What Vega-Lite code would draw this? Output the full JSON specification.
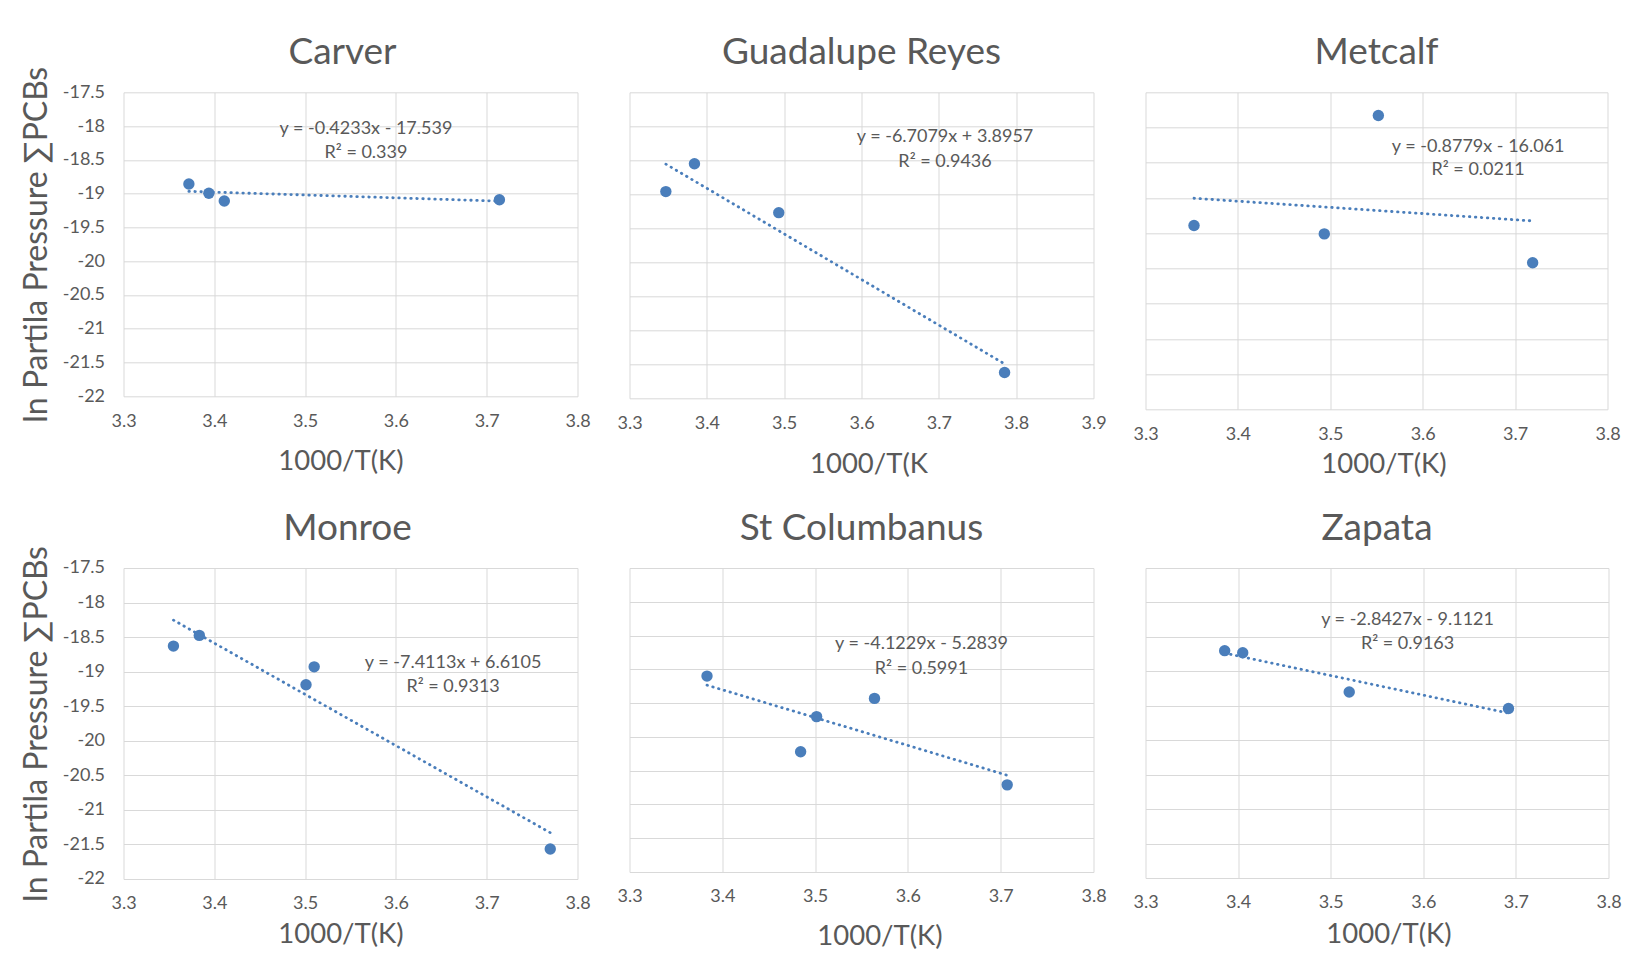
{
  "$schema": "https://vega.github.io/schema/vega-lite/v6.json",
  "background": "white",
  "padding": {"left": 19.5, "top": 33.3, "right": 5, "bottom": 5},
  "datasets": {
    "pts": [
      {"site": "Carver", "x": 3.372, "y": -18.857},
      {"site": "Carver", "x": 3.394, "y": -18.995},
      {"site": "Carver", "x": 3.411, "y": -19.11},
      {"site": "Carver", "x": 3.714, "y": -19.09},
      {"site": "Guadalupe Reyes", "x": 3.347, "y": -18.96},
      {"site": "Guadalupe Reyes", "x": 3.384, "y": -18.55},
      {"site": "Guadalupe Reyes", "x": 3.493, "y": -19.27},
      {"site": "Guadalupe Reyes", "x": 3.785, "y": -21.62},
      {"site": "Metcalf", "x": 3.3525, "y": -19.39},
      {"site": "Metcalf", "x": 3.4935, "y": -19.51},
      {"site": "Metcalf", "x": 3.552, "y": -17.83},
      {"site": "Metcalf", "x": 3.719, "y": -19.92},
      {"site": "Monroe", "x": 3.355, "y": -18.63},
      {"site": "Monroe", "x": 3.3835, "y": -18.475},
      {"site": "Monroe", "x": 3.501, "y": -19.19},
      {"site": "Monroe", "x": 3.51, "y": -18.93},
      {"site": "Monroe", "x": 3.77, "y": -21.565},
      {"site": "St Columbanus", "x": 3.3835, "y": -19.1},
      {"site": "St Columbanus", "x": 3.4844, "y": -20.22},
      {"site": "St Columbanus", "x": 3.5016, "y": -19.7},
      {"site": "St Columbanus", "x": 3.564, "y": -19.43},
      {"site": "St Columbanus", "x": 3.707, "y": -20.71},
      {"site": "Zapata", "x": 3.3855, "y": -18.7},
      {"site": "Zapata", "x": 3.405, "y": -18.73},
      {"site": "Zapata", "x": 3.52, "y": -19.3},
      {"site": "Zapata", "x": 3.692, "y": -19.54}
    ],
    "trend": [
      {"site": "Carver", "x": 3.372, "y": -18.966},
      {"site": "Carver", "x": 3.714, "y": -19.111},
      {"site": "Guadalupe Reyes", "x": 3.347, "y": -18.556},
      {"site": "Guadalupe Reyes", "x": 3.785, "y": -21.494},
      {"site": "Metcalf", "x": 3.3525, "y": -19.004},
      {"site": "Metcalf", "x": 3.719, "y": -19.326},
      {"site": "Monroe", "x": 3.355, "y": -18.254},
      {"site": "Monroe", "x": 3.77, "y": -21.33},
      {"site": "St Columbanus", "x": 3.3835, "y": -19.234},
      {"site": "St Columbanus", "x": 3.707, "y": -20.568},
      {"site": "Zapata", "x": 3.3855, "y": -18.736},
      {"site": "Zapata", "x": 3.692, "y": -19.607}
    ],
    "eq": [
      {"site": "Carver", "x": 3.567, "y": -18.04, "label": "y = -0.4233x - 17.539"},
      {"site": "Carver", "x": 3.567, "y": -18.4, "label": "R² = 0.339"},
      {"site": "Guadalupe Reyes", "x": 3.708, "y": -18.16, "label": "y = -6.7079x + 3.8957"},
      {"site": "Guadalupe Reyes", "x": 3.708, "y": -18.52, "label": "R² = 0.9436"},
      {"site": "Metcalf", "x": 3.66, "y": -18.27, "label": "y = -0.8779x - 16.061"},
      {"site": "Metcalf", "x": 3.66, "y": -18.61, "label": "R² = 0.0211"},
      {"site": "Monroe", "x": 3.663, "y": -18.87, "label": "y = -7.4113x + 6.6105"},
      {"site": "Monroe", "x": 3.663, "y": -19.22, "label": "R² = 0.9313"},
      {"site": "St Columbanus", "x": 3.6146, "y": -18.625, "label": "y = -4.1229x - 5.2839"},
      {"site": "St Columbanus", "x": 3.6146, "y": -18.995, "label": "R² = 0.5991"},
      {"site": "Zapata", "x": 3.583, "y": -18.26, "label": "y = -2.8427x - 9.1121"},
      {"site": "Zapata", "x": 3.583, "y": -18.61, "label": "R² = 0.9163"}
    ]
  },
  "spacing": 31.7,
  "vconcat": [
    {
      "bounds": "flush",
      "spacing": 52,
      "hconcat": [
        {
          "width": 454, "height": 304,
          "title": {"text": "Carver", "offset": -5.9, "dx": -8},
          "encoding": {
            "x": {"field": "x", "type": "quantitative", "scale": {"domain": [3.3, 3.8], "nice": false, "zero": false},
                  "axis": {"values": [3.3, 3.4, 3.5, 3.6, 3.7, 3.8], "format": ".1f", "title": "1000/T(K)", "titlePadding": 17, "titleX": 217, "titleAlign": "center"}},
            "y": {"field": "y", "type": "quantitative", "scale": {"domain": [-22, -17.5], "nice": false, "zero": false},
                  "axis": {"values": [-22, -21.5, -21, -20.5, -20, -19.5, -19, -18.5, -18, -17.5], "labelExpr": "'-' + format(-datum.value, '~g')", "labelPadding": 19, "title": "ln Partila Pressure ∑PCBs", "titlePadding": 9}}
          },
          "layer": [
            {"data": {"name": "trend"}, "transform": [{"filter": "datum.site === 'Carver'"}], "mark": {"type": "line", "color": "#4a7ebb", "strokeWidth": 2.8, "strokeCap": "round", "strokeDash": [0.5, 5.5]}, "encoding": {}},
            {"data": {"name": "pts"}, "transform": [{"filter": "datum.site === 'Carver'"}], "mark": {"type": "circle", "color": "#4a7ebb", "size": 130, "opacity": 1}},
            {"data": {"name": "eq"}, "transform": [{"filter": "datum.site === 'Carver'"}], "mark": {"type": "text", "color": "#595959", "fontSize": 18}, "encoding": {"text": {"field": "label"}}}
          ]
        },
        {
          "width": 464, "height": 306,
          "title": {"text": "Guadalupe Reyes", "offset": 20},
          "encoding": {
            "x": {"field": "x", "type": "quantitative", "scale": {"domain": [3.3, 3.9], "nice": false, "zero": false},
                  "axis": {"values": [3.3, 3.4, 3.5, 3.6, 3.7, 3.8, 3.9], "format": ".1f", "title": "1000/T(K", "titlePadding": 18, "titleX": 239, "titleAlign": "center"}},
            "y": {"field": "y", "type": "quantitative", "scale": {"domain": [-22, -17.5], "nice": false, "zero": false},
                  "axis": {"values": [-22, -21.5, -21, -20.5, -20, -19.5, -19, -18.5, -18, -17.5], "labels": false, "title": null}}
          },
          "layer": [
            {"data": {"name": "trend"}, "transform": [{"filter": "datum.site === 'Guadalupe Reyes'"}], "mark": {"type": "line", "color": "#4a7ebb", "strokeWidth": 2.8, "strokeCap": "round", "strokeDash": [0.5, 5.5]}, "encoding": {}},
            {"data": {"name": "pts"}, "transform": [{"filter": "datum.site === 'Guadalupe Reyes'"}], "mark": {"type": "circle", "color": "#4a7ebb", "size": 130, "opacity": 1}},
            {"data": {"name": "eq"}, "transform": [{"filter": "datum.site === 'Guadalupe Reyes'"}], "mark": {"type": "text", "color": "#595959", "fontSize": 18}, "encoding": {"text": {"field": "label"}}}
          ]
        },
        {
          "width": 462, "height": 317,
          "title": {"text": "Metcalf", "offset": 20},
          "encoding": {
            "x": {"field": "x", "type": "quantitative", "scale": {"domain": [3.3, 3.8], "nice": false, "zero": false},
                  "axis": {"values": [3.3, 3.4, 3.5, 3.6, 3.7, 3.8], "format": ".1f", "title": "1000/T(K)", "titlePadding": 7, "titleX": 238, "titleAlign": "center"}},
            "y": {"field": "y", "type": "quantitative", "scale": {"domain": [-22, -17.5], "nice": false, "zero": false},
                  "axis": {"values": [-22, -21.5, -21, -20.5, -20, -19.5, -19, -18.5, -18, -17.5], "labels": false, "title": null}}
          },
          "layer": [
            {"data": {"name": "trend"}, "transform": [{"filter": "datum.site === 'Metcalf'"}], "mark": {"type": "line", "color": "#4a7ebb", "strokeWidth": 2.8, "strokeCap": "round", "strokeDash": [0.5, 5.5]}, "encoding": {}},
            {"data": {"name": "pts"}, "transform": [{"filter": "datum.site === 'Metcalf'"}], "mark": {"type": "circle", "color": "#4a7ebb", "size": 130, "opacity": 1}},
            {"data": {"name": "eq"}, "transform": [{"filter": "datum.site === 'Metcalf'"}], "mark": {"type": "text", "color": "#595959", "fontSize": 18}, "encoding": {"text": {"field": "label"}}}
          ]
        }
      ]
    },
    {
      "bounds": "flush",
      "spacing": 52,
      "hconcat": [
        {
          "width": 454, "height": 311,
          "title": {"text": "Monroe", "offset": -2.5, "dx": -3},
          "encoding": {
            "x": {"field": "x", "type": "quantitative", "scale": {"domain": [3.3, 3.8], "nice": false, "zero": false},
                  "axis": {"values": [3.3, 3.4, 3.5, 3.6, 3.7, 3.8], "format": ".1f", "title": "1000/T(K)", "titlePadding": 8, "titleX": 217, "titleAlign": "center"}},
            "y": {"field": "y", "type": "quantitative", "scale": {"domain": [-22, -17.5], "nice": false, "zero": false},
                  "axis": {"values": [-22, -21.5, -21, -20.5, -20, -19.5, -19, -18.5, -18, -17.5], "labelExpr": "'-' + format(-datum.value, '~g')", "labelPadding": 19, "title": "ln Partila Pressure ∑PCBs", "titlePadding": 9}}
          },
          "layer": [
            {"data": {"name": "trend"}, "transform": [{"filter": "datum.site === 'Monroe'"}], "mark": {"type": "line", "color": "#4a7ebb", "strokeWidth": 2.8, "strokeCap": "round", "strokeDash": [0.5, 5.5]}, "encoding": {}},
            {"data": {"name": "pts"}, "transform": [{"filter": "datum.site === 'Monroe'"}], "mark": {"type": "circle", "color": "#4a7ebb", "size": 130, "opacity": 1}},
            {"data": {"name": "eq"}, "transform": [{"filter": "datum.site === 'Monroe'"}], "mark": {"type": "text", "color": "#595959", "fontSize": 18}, "encoding": {"text": {"field": "label"}}}
          ]
        },
        {
          "width": 464, "height": 304,
          "title": {"text": "St Columbanus", "offset": 20},
          "encoding": {
            "x": {"field": "x", "type": "quantitative", "scale": {"domain": [3.3, 3.8], "nice": false, "zero": false},
                  "axis": {"values": [3.3, 3.4, 3.5, 3.6, 3.7, 3.8], "format": ".1f", "title": "1000/T(K)", "titlePadding": 17, "titleX": 250, "titleAlign": "center"}},
            "y": {"field": "y", "type": "quantitative", "scale": {"domain": [-22, -17.5], "nice": false, "zero": false},
                  "axis": {"values": [-22, -21.5, -21, -20.5, -20, -19.5, -19, -18.5, -18, -17.5], "labels": false, "title": null}}
          },
          "layer": [
            {"data": {"name": "trend"}, "transform": [{"filter": "datum.site === 'St Columbanus'"}], "mark": {"type": "line", "color": "#4a7ebb", "strokeWidth": 2.8, "strokeCap": "round", "strokeDash": [0.5, 5.5]}, "encoding": {}},
            {"data": {"name": "pts"}, "transform": [{"filter": "datum.site === 'St Columbanus'"}], "mark": {"type": "circle", "color": "#4a7ebb", "size": 130, "opacity": 1}},
            {"data": {"name": "eq"}, "transform": [{"filter": "datum.site === 'St Columbanus'"}], "mark": {"type": "text", "color": "#595959", "fontSize": 18}, "encoding": {"text": {"field": "label"}}}
          ]
        },
        {
          "width": 463, "height": 310,
          "title": {"text": "Zapata", "offset": 20},
          "encoding": {
            "x": {"field": "x", "type": "quantitative", "scale": {"domain": [3.3, 3.8], "nice": false, "zero": false},
                  "axis": {"values": [3.3, 3.4, 3.5, 3.6, 3.7, 3.8], "format": ".1f", "title": "1000/T(K)", "titlePadding": 9, "titleX": 243, "titleAlign": "center"}},
            "y": {"field": "y", "type": "quantitative", "scale": {"domain": [-22, -17.5], "nice": false, "zero": false},
                  "axis": {"values": [-22, -21.5, -21, -20.5, -20, -19.5, -19, -18.5, -18, -17.5], "labels": false, "title": null}}
          },
          "layer": [
            {"data": {"name": "trend"}, "transform": [{"filter": "datum.site === 'Zapata'"}], "mark": {"type": "line", "color": "#4a7ebb", "strokeWidth": 2.8, "strokeCap": "round", "strokeDash": [0.5, 5.5]}, "encoding": {}},
            {"data": {"name": "pts"}, "transform": [{"filter": "datum.site === 'Zapata'"}], "mark": {"type": "circle", "color": "#4a7ebb", "size": 130, "opacity": 1}},
            {"data": {"name": "eq"}, "transform": [{"filter": "datum.site === 'Zapata'"}], "mark": {"type": "text", "color": "#595959", "fontSize": 18}, "encoding": {"text": {"field": "label"}}}
          ]
        }
      ]
    }
  ],
  "config": {
    "font": "Lato",
    "view": {"stroke": null},
    "axis": {
      "gridColor": "#d9d9d9", "gridWidth": 1, "gridOpacity": 1,
      "domain": false, "ticks": false, "labelFlush": false,
      "labelColor": "#595959", "labelFontSize": 18, "labelPadding": 16, "labelFont": "Lato",
      "titleColor": "#595959", "titleFontWeight": "normal", "titleFont": "Lato"
    },
    "axisX": {"titleFontSize": 27.5},
    "axisY": {"titleFontSize": 32},
    "title": {"fontSize": 37, "fontWeight": "normal", "color": "#595959", "font": "Lato", "frame": "group", "anchor": "middle"}
  }
}
